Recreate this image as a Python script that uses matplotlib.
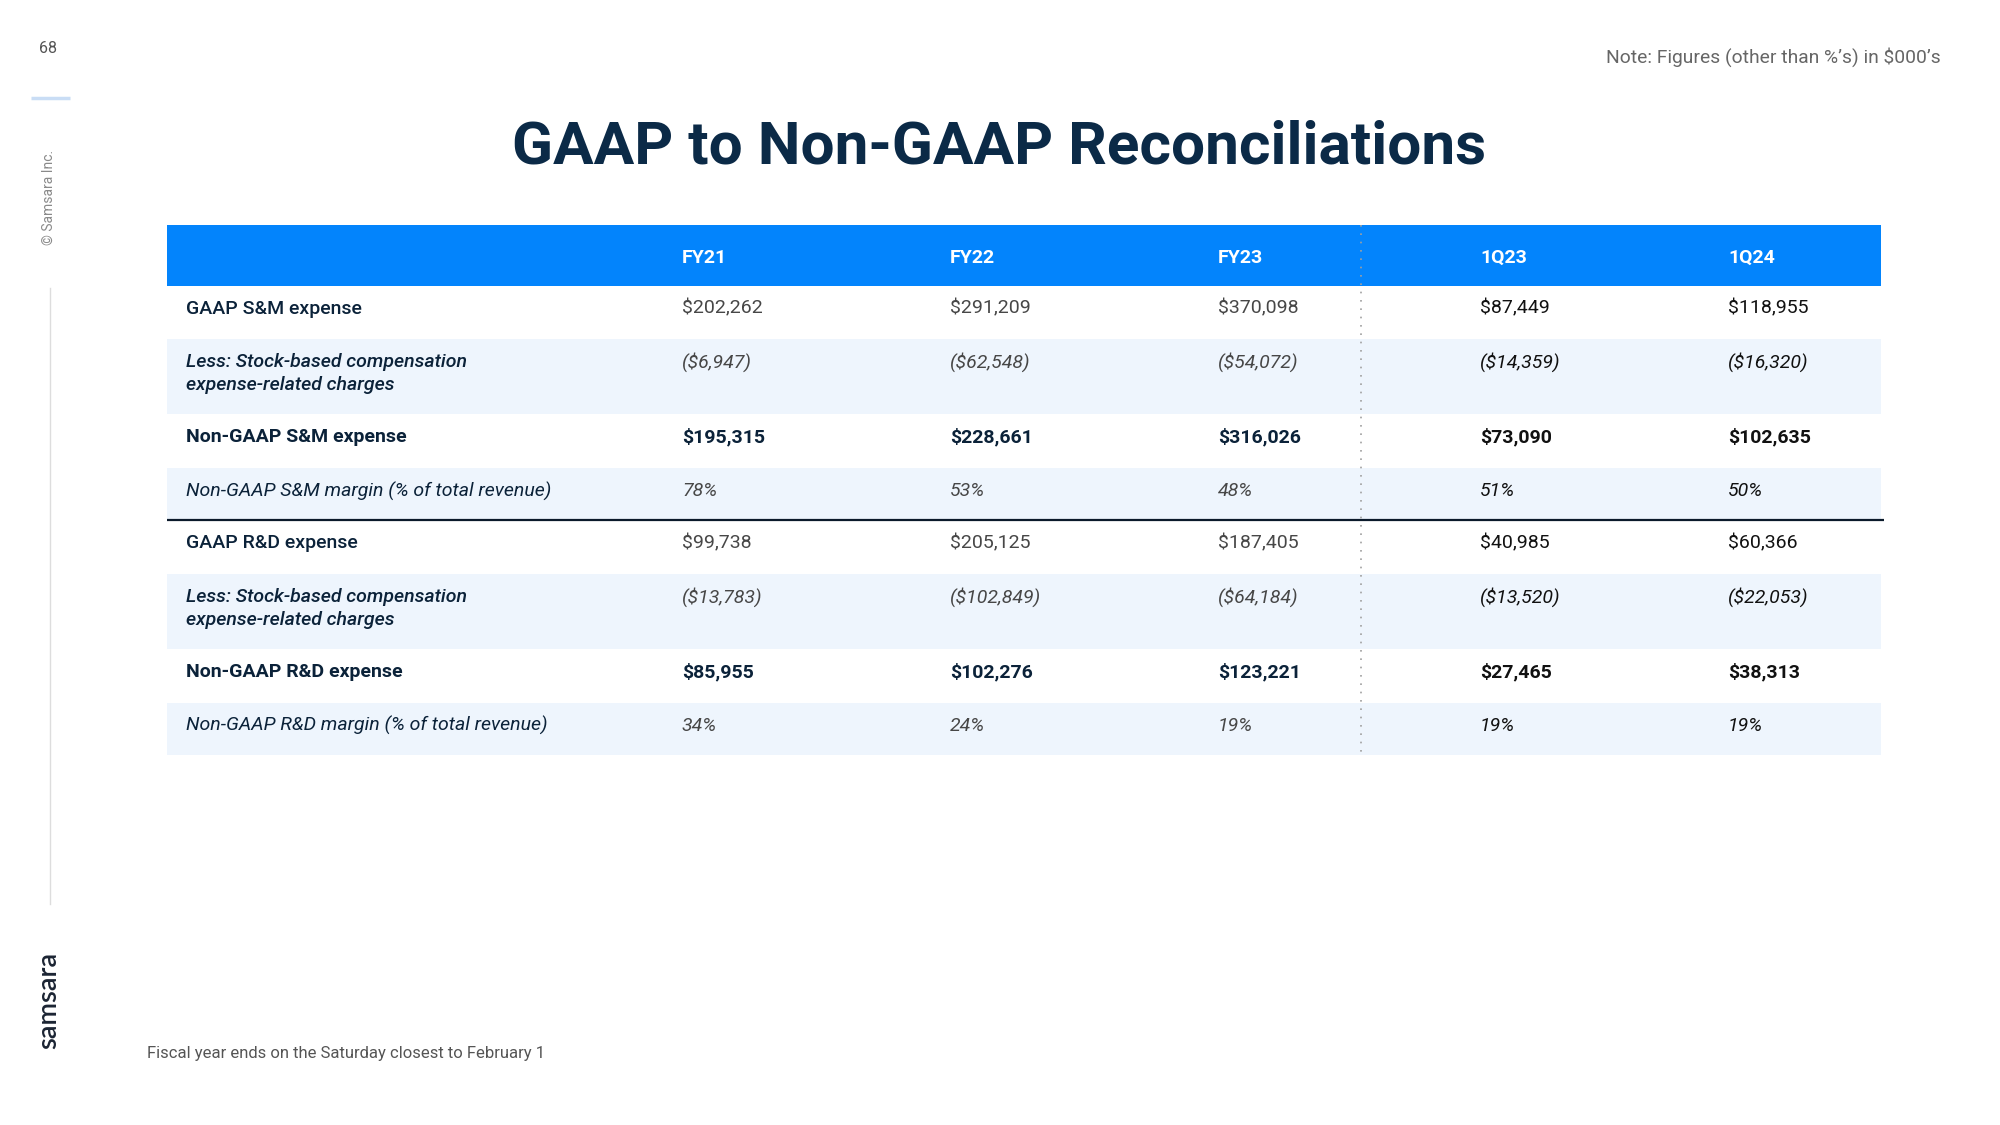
import matplotlib
matplotlib.use("Agg")
import matplotlib.pyplot as plt
from matplotlib.patches import Rectangle

# ---------------- data ----------------
columns = ["FY21", "FY22", "FY23", "1Q23", "1Q24"]

row_labels = [
    "GAAP S&M expense",
    "Less: Stock-based compensation\nexpense-related charges",
    "Non-GAAP S&M expense",
    "Non-GAAP S&M margin (% of total revenue)",
    "GAAP R&D expense",
    "Less: Stock-based compensation\nexpense-related charges",
    "Non-GAAP R&D expense",
    "Non-GAAP R&D margin (% of total revenue)",
]

sm_gaap = [202262, 291209, 370098, 87449, 118955]
sm_sbc = [6947, 62548, 54072, 14359, 16320]
sm_non_gaap = [195315, 228661, 316026, 73090, 102635]
sm_margin = [78, 53, 48, 51, 50]
rd_gaap = [99738, 205125, 187405, 40985, 60366]
rd_sbc = [13783, 102849, 64184, 13520, 22053]
rd_non_gaap = [85955, 102276, 123221, 27465, 38313]
rd_margin = [34, 24, 19, 19, 19]

title = "GAAP to Non-GAAP Reconciliations"
note = "Note: Figures (other than %\u2019s) in $000\u2019s"
footer = "Fiscal year ends on the Saturday closest to February 1"
page_number = "68"

# ---------------- formatting ----------------
def money(v):
    return f"${v:,}"

def neg(v):
    return f"(${v:,})"

def pct(v):
    return f"{v}%"

rows = [
    ([money(v) for v in sm_gaap], "gaap"),
    ([neg(v) for v in sm_sbc], "sbc"),
    ([money(v) for v in sm_non_gaap], "nongaap"),
    ([pct(v) for v in sm_margin], "margin"),
    ([money(v) for v in rd_gaap], "gaap"),
    ([neg(v) for v in rd_sbc], "sbc"),
    ([money(v) for v in rd_non_gaap], "nongaap"),
    ([pct(v) for v in rd_margin], "margin"),
]

# ---------------- style ----------------
plt.rcParams["font.family"] = ["Roboto", "DejaVu Sans"]
BLUE = "#0384FC"
LIGHT = "#EEF5FD"
NAVY = "#0B2239"
GRAY_VAL = "#474747"
BLACK = "#111111"
TITLE_C = "#0B2A47"

fig = plt.figure(figsize=(20, 11.25), dpi=100)
ax = fig.add_axes([0, 0, 1, 1])
ax.set_xlim(0, 2000)
ax.set_ylim(1125, 0)
ax.axis("off")

# layout (pixels)
tbl_left, tbl_right = 167, 1881
header_top, header_bot = 224.5, 285.7
row_edges = [285.7, 339.3, 414.5, 468.0, 520.4, 574.0, 649.0, 702.8, 755.0]
label_x = 186
col_x = [682, 950, 1218, 1480, 1728]
divider_x = 1361
FS = 14
TXT_OFF = 23.0

# header
ax.add_patch(Rectangle((tbl_left, header_top), tbl_right - tbl_left,
                       header_bot - header_top, facecolor=BLUE, edgecolor="none"))
for cx, c in zip(col_x, columns):
    ax.text(cx, (header_top + header_bot) / 2 + 2.5, c, color="white", fontsize=FS,
            fontweight="bold", ha="left", va="center")

# rows
for i, (label, (vals, kind)) in enumerate(zip(row_labels, rows)):
    top, bot = row_edges[i], row_edges[i + 1]
    if i % 2 == 1:
        ax.add_patch(Rectangle((tbl_left, top), tbl_right - tbl_left, bot - top,
                               facecolor=LIGHT, edgecolor="none"))
    if kind == "gaap":
        lw, ls, vw = "medium", "normal", "normal"
    elif kind == "sbc":
        lw, ls, vw = "medium", "italic", "normal"
    elif kind == "nongaap":
        lw, ls, vw = "bold", "normal", "bold"
    else:
        lw, ls, vw = "normal", "italic", "normal"
    for k, line in enumerate(label.split("\n")):
        ax.text(label_x, top + TXT_OFF + k * 23, line, color=NAVY, fontsize=FS,
                fontweight=lw, fontstyle=ls, ha="left", va="center")
    for j, (cx, v) in enumerate(zip(col_x, vals)):
        if j >= 3:
            col = BLACK
        else:
            col = NAVY if kind == "nongaap" else GRAY_VAL
        ax.text(cx, top + TXT_OFF, v, color=col, fontsize=FS, fontweight=vw,
                fontstyle=ls, ha="left", va="center")

# separator between S&M and R&D blocks
ax.plot([167, 1884], [520.4, 520.4], color="#0B1A2B", lw=1.6, solid_capstyle="butt")

# dotted divider between annual and quarterly
ax.plot([divider_x, divider_x], [header_top, row_edges[-1]], color="#A0A0A0",
        lw=1.2, linestyle=(0, (1, 4)))

# title & notes
ax.text(999, 148, title, color=TITLE_C, fontsize=43.5, fontweight="bold",
        ha="center", va="center")
ax.text(1941, 57.4, note, color="#666666", fontsize=13.9, ha="right", va="center")
ax.text(147, 1053.5, footer, color="#555555", fontsize=12, ha="left", va="center")

# left rail
ax.text(48.5, 48.5, page_number, color="#555555", fontsize=11.5, ha="center", va="center")
ax.plot([31, 70], [98, 98], color="#C9DDF5", lw=2.5, solid_capstyle="butt")
ax.text(48.5, 197, "\u00a9 Samsara Inc.", color="#8A8A8A", fontsize=10,
        rotation=90, ha="center", va="center")
ax.plot([50, 50], [288, 904], color="#DDDDDD", lw=1.0)
ax.text(48.5, 1000, "samsara", color="#1B2433", fontsize=19.5, fontweight="semibold",
        family=["Lato", "DejaVu Sans"], rotation=90, ha="center", va="center")

fig.savefig("out.png", dpi=100, facecolor="white")
